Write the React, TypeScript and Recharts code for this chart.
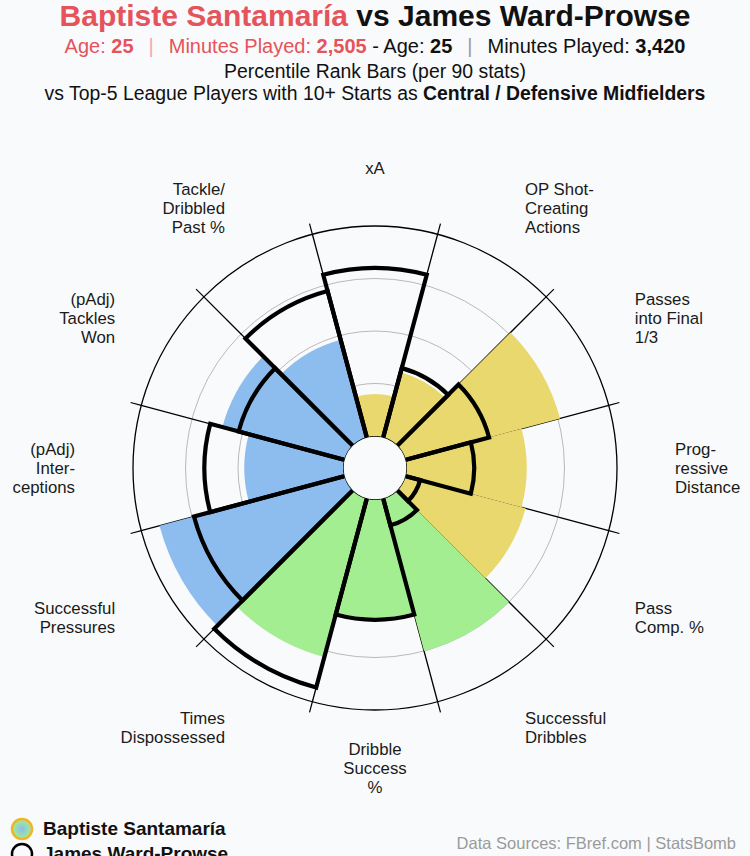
import React from 'react';
import {
  RadialBarChart, RadialBar, PolarAngleAxis, PolarRadiusAxis, PolarGrid, Cell,
} from 'recharts';

// clockwise from the top
const categories = [
  'xA',
  'OP Shot-\nCreating\nActions',
  'Passes\ninto Final\n1/3',
  'Prog-\nressive\nDistance',
  'Pass\nComp. %',
  'Successful\nDribbles',
  'Dribble\nSuccess\n%',
  'Times\nDispossessed',
  'Successful\nPressures',
  '(pAdj)\nInter-\nceptions',
  '(pAdj)\nTackles\nWon',
  'Tackle/\nDribbled\nPast %',
];
const groups = ['att', 'att', 'att', 'att', 'att', 'pos', 'pos', 'pos', 'def', 'def', 'def', 'def'];
const santamaria = [20, 32, 76, 57, 59, 75, 56, 78, 91, 47, 60, 48];
const wardProwse = [80, 34, 41, 32, 7, 13, 57, 93, 74, 66, 52, 72];
const gridTicks = [25, 50, 75];

const groupColor: Record<string, string> = {
  att: '#E8D86E',
  pos: '#A2EE90',
  def: '#8CBDEE',
};

const RED = '#E5535B';
const FONT = '"Liberation Sans", Arial, sans-serif';
const INNER = 32;
const OUTER = 242;
const RAD = Math.PI / 180;

// recharts lays the bands out counter-clockwise, so feed the categories in that order
const order = categories.map((_, i) => (i === 0 ? 0 : categories.length - i));
const data = order.map((i) => ({
  name: categories[i],
  group: groups[i],
  santamaria: santamaria[i],
  wardProwse: wardProwse[i],
}));

function AngleTick(props: any) {
  const { payload, cx, cy } = props;
  // tick sits on the band edge, label goes in the middle of the band
  const angle = (payload.coordinate + 15) * RAD;
  const r = 300;
  const x = cx + r * Math.cos(angle);
  const y = cy - r * Math.sin(angle);
  const cos = Math.cos(angle);
  const anchor = Math.abs(cos) < 0.1 ? 'middle' : cos > 0 ? 'start' : 'end';
  const lines = String(payload.value).split('\n');
  const lh = 19;
  const y0 = y - ((lines.length - 1) * lh) / 2;
  return (
    <text x={x} y={y0} textAnchor={anchor} fontSize={16.8} fill="#1a1a1a" fontFamily={FONT}>
      {lines.map((l, i) => (
        <tspan key={i} x={x} y={y0 + i * lh} dominantBaseline="central">{l}</tspan>
      ))}
    </text>
  );
}

// outline without the inner arc: two sides and the outer arc
function OutlineShape(props: any) {
  const { cx, cy, innerRadius, outerRadius, startAngle, endAngle } = props;
  const pt = (r: number, a: number) => [cx + r * Math.cos(-a * RAD), cy + r * Math.sin(-a * RAD)];
  const [x0, y0] = pt(innerRadius, startAngle);
  const [x1, y1] = pt(outerRadius, startAngle);
  const [x2, y2] = pt(outerRadius, endAngle);
  const [x3, y3] = pt(innerRadius, endAngle);
  const sweep = endAngle > startAngle ? 0 : 1;
  const d = `M${x0},${y0} L${x1},${y1} A${outerRadius},${outerRadius} 0 0 ${sweep} ${x2},${y2} L${x3},${y3}`;
  return <path d={d} fill="none" stroke="#000" strokeWidth={4.2} strokeLinejoin="miter" />;
}

export default function App() {
  const sub = { position: 'absolute' as const, width: 750, textAlign: 'center' as const, fontSize: 19.4, whiteSpace: 'nowrap' as const, lineHeight: '22px', color: '#111' };
  return (
    <div style={{ position: 'absolute', left: 0, top: 0, width: 750, height: 856, background: '#F9FAFB', overflow: 'hidden', fontFamily: FONT }}>
      <div style={{ position: 'absolute', top: 0, width: 750, textAlign: 'center', fontSize: 30, fontWeight: 700, whiteSpace: 'nowrap', lineHeight: '32px' }}>
        <span style={{ color: RED }}>Baptiste Santamaría</span>
        <span style={{ color: '#111' }}> vs James Ward-Prowse</span>
      </div>
      <div style={{ ...sub, top: 35, fontSize: 20 }}>
        <span style={{ color: RED }}>Age: <b>25</b></span>
        <span style={{ color: '#F2A9AE', margin: '0 15px' }}>|</span>
        <span style={{ color: RED }}>Minutes Played: <b>2,505</b></span>
        <span> - Age: <b>25</b></span>
        <span style={{ color: '#999', margin: '0 15px' }}>|</span>
        <span>Minutes Played: <b>3,420</b></span>
      </div>
      <div style={{ ...sub, top: 60 }}>Percentile Rank Bars (per 90 stats)</div>
      <div style={{ ...sub, top: 82 }}>
        vs Top-5 League Players with 10+ Starts as <b>Central / Defensive Midfielders</b>
      </div>

      <div style={{ position: 'absolute', left: 0, top: 0 }}>
        <RadialBarChart
          width={750}
          height={856}
          cx={375}
          cy={468}
          innerRadius={INNER}
          outerRadius={OUTER}
          startAngle={105}
          endAngle={465}
          data={data}
          layout="centric"
          barCategoryGap={0}
          barGap={-30}
          margin={{ top: 0, right: 0, bottom: 0, left: 0 }}
        >
          <PolarAngleAxis
            type="category"
            dataKey="name"
            tick={<AngleTick />}
            tickLine={{ stroke: '#000', strokeWidth: 1.2 }}
            tickSize={11}
            axisLine={false}
          />
          <PolarRadiusAxis type="number" domain={[0, 100]} ticks={gridTicks} tick={false} axisLine={false} />
          <RadialBar dataKey="santamaria" isAnimationActive={false}>
            {data.map((d) => (
              <Cell key={d.name} fill={groupColor[d.group]} />
            ))}
          </RadialBar>
          <PolarGrid gridType="circle" radialLines={false} stroke="#B9B9B9" strokeWidth={1} />
          <PolarGrid gridType="circle" radialLines polarRadius={[INNER, OUTER]} stroke="#000" strokeWidth={1.3} />
          <RadialBar
            dataKey="wardProwse"
            isAnimationActive={false}
            shape={<OutlineShape />}
          />
        </RadialBarChart>
      </div>

      <div style={{ position: 'absolute', left: 10, top: 816, fontSize: 19, fontWeight: 700, color: '#111', lineHeight: '25px' }}>
        <div style={{ display: 'flex', alignItems: 'center' }}>
          <svg width={26} height={24}>
            <defs>
              <radialGradient id="lg">
                <stop offset="0%" stopColor="#8CBDEE" />
                <stop offset="100%" stopColor="#A2EE90" />
              </radialGradient>
            </defs>
            <circle cx={12} cy={12} r={10} fill="url(#lg)" stroke="#F0B429" strokeWidth={2.5} />
          </svg>
          <span style={{ marginLeft: 7 }}>Baptiste Santamaría</span>
        </div>
        <div style={{ display: 'flex', alignItems: 'center' }}>
          <svg width={26} height={24}>
            <circle cx={12} cy={12} r={10} fill="none" stroke="#000" strokeWidth={2.5} />
          </svg>
          <span style={{ marginLeft: 7 }}>James Ward-Prowse</span>
        </div>
      </div>

      <div style={{ position: 'absolute', right: 14, top: 832, fontSize: 16.5, color: '#9A9A9A', textAlign: 'right', lineHeight: '22px', whiteSpace: 'nowrap' }}>
        <div>Data Sources: FBref.com | StatsBomb</div>
        <div>Last Updated: 09/09/2020, 3:50 PM UTC</div>
      </div>
    </div>
  );
}
